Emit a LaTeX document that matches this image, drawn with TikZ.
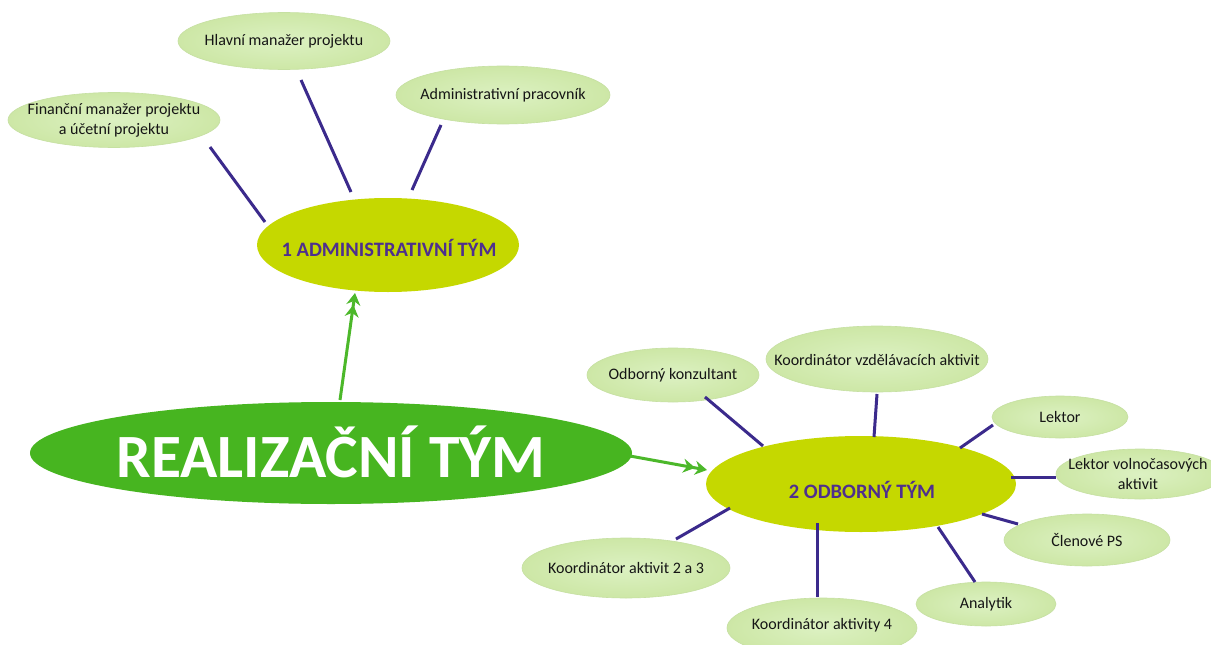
\documentclass[tikz,border=0pt]{standalone}
\usepackage{fontspec}
\setmainfont{Carlito}
\usetikzlibrary{arrows.meta,shapes.geometric}
\definecolor{maingreen}{HTML}{47B520}
\definecolor{hubyellow}{HTML}{C5D800}
\definecolor{leafout}{HTML}{CDE7A6}
\definecolor{leafin}{HTML}{DCF1C2}
\definecolor{leafedge}{HTML}{C6E0A2}
\definecolor{linkpurple}{HTML}{3B2A8C}
\definecolor{hubtext}{HTML}{4E2F8E}
\definecolor{leaftext}{HTML}{151515}
\definecolor{arrowgreen}{HTML}{4CB82A}
\tikzset{
  leaf/.style={ellipse, inner sep=0pt, draw=leafedge, line width=0.6pt,
    inner color=leafin, outer color=leafout},
  leaftxt/.style={inner sep=0pt, text=leaftext,
    font=\fontsize{16}{20}\selectfont, align=center},
  hub/.style={ellipse, inner sep=0pt, fill=hubyellow},
  hubtxt/.style={inner sep=0pt, text=hubtext,
    font=\fontsize{20.5}{24}\selectfont\bfseries},
  rootnode/.style={ellipse, inner sep=0pt, fill=maingreen},
  roottxt/.style={inner sep=0pt, text=white,
    font=\fontsize{61.5}{66}\selectfont\bfseries},
  conn/.style={draw=linkpurple, line width=3pt},
  grarrow/.style={draw=arrowgreen, line width=3pt,
    -{Stealth[length=12pt,width=14pt,inset=4pt]Stealth[length=12pt,width=14pt,inset=4pt]}},
}
\begin{document}
\begin{tikzpicture}[x=1pt,y=-1pt]
\useasboundingbox (0,0) rectangle (1211,645);
\clip (0,0) rectangle (1211,645);
\fill[white] (0,0) rectangle (1211,645);
% hubs
\node[rootnode, minimum width=602pt, minimum height=102pt] (main) at (331,453) {};
\node[roottxt] (maintext) at ([shift={(0,-1)}]main.center) {REALIZAČNÍ TÝM};
\node[hub, minimum width=262pt, minimum height=94pt] (adm) at (388,245) {};
\node[hubtxt] (admtext) at ([shift={(1,3)}]adm.center) {1 ADMINISTRATIVNÍ TÝM};
\node[hub, minimum width=310pt, minimum height=96pt] (odb) at (861,484) {};
\node[hubtxt] (odbtext) at ([shift={(1,6)}]odb.center) {2 ODBORNÝ TÝM};

% leaves
\node[leaf, minimum width=212pt, minimum height=55pt] (fin) at (114,120) {};
\node[leaftxt] (fintext) at (fin) {Finanční manažer projektu\\a účetní projektu};
\node[leaf, minimum width=212pt, minimum height=57pt] (hla) at (284,41) {};
\node[leaftxt] (hlatext) at (hla) {Hlavní manažer projektu};
\node[leaf, minimum width=214pt, minimum height=58pt] (apr) at (503,95) {};
\node[leaftxt] (aprtext) at (apr) {Administrativní pracovník};

\node[leaf, minimum width=172pt, minimum height=54pt] (okz) at (673,375) {};
\node[leaftxt] (okztext) at (okz) {Odborný konzultant};
\node[leaf, minimum width=222pt, minimum height=66pt] (kvz) at (877,359) {};
\node[leaftxt] (kvztext) at ([shift={(0,1)}]kvz.center) {Koordinátor vzdělávacích aktivit};
\node[leaf, minimum width=136pt, minimum height=42pt] (lek) at (1060,417) {};
\node[leaftxt] (lektext) at (lek) {Lektor};
\node[leaf, minimum width=168pt, minimum height=50pt] (lva) at (1140,474) {};
\node[leaftxt] (lvatext) at ([shift={(-2,0)}]lva.center) {Lektor volnočasových\\aktivit};
\node[leaf, minimum width=166pt, minimum height=52pt] (cle) at (1087,540) {};
\node[leaftxt] (cletext) at (cle) {Členové PS};
\node[leaf, minimum width=140pt, minimum height=44pt] (ana) at (986,604) {};
\node[leaftxt] (anatext) at (ana) {Analytik};
\node[leaf, minimum width=190pt, minimum height=60pt] (ka4) at (822,628) {};
\node[leaftxt] (ka4text) at ([shift={(0,-3)}]ka4.center) {Koordinátor aktivity 4};
\node[leaf, minimum width=208pt, minimum height=60pt] (k23) at (626,568) {};
\node[leaftxt] (k23text) at (k23) {Koordinátor aktivit 2 a 3};

% purple connectors
\draw[conn] ([shift={(96,27)}]fin.center) -- ([shift={(-123,-23)}]adm.center);
\draw[conn] ([shift={(17,39)}]hla.center) -- ([shift={(-37,-53)}]adm.center);
\draw[conn] ([shift={(-62,30)}]apr.center) -- ([shift={(24,-55)}]adm.center);

\draw[conn] ([shift={(32,22)}]okz.center) -- ([shift={(-98,-38)}]odb.center);
\draw[conn] ([shift={(0,35)}]kvz.center) -- ([shift={(13,-47)}]odb.center);
\draw[conn] ([shift={(-67,8)}]lek.center) -- ([shift={(99,-36)}]odb.center);
\draw[conn] ([shift={(-84,3)}]lva.center) -- ([shift={(150,-7)}]odb.center);
\draw[conn] ([shift={(-69,-16)}]cle.center) -- ([shift={(121,30)}]odb.center);
\draw[conn] ([shift={(-11,-22)}]ana.center) -- ([shift={(77,43)}]odb.center);
\draw[conn] ([shift={(-5,-31)}]ka4.center) -- ([shift={(-44,39)}]odb.center);
\draw[conn] ([shift={(50,-29)}]k23.center) -- ([shift={(-131,24)}]odb.center);

% green arrows
\draw[grarrow] ([shift={(9,-53)}]main.center) -- ([shift={(-33,48)}]adm.center);
\draw[grarrow] ([shift={(299,3)}]main.center) -- ([shift={(-154,-14)}]odb.center);
\end{tikzpicture}
\end{document}
